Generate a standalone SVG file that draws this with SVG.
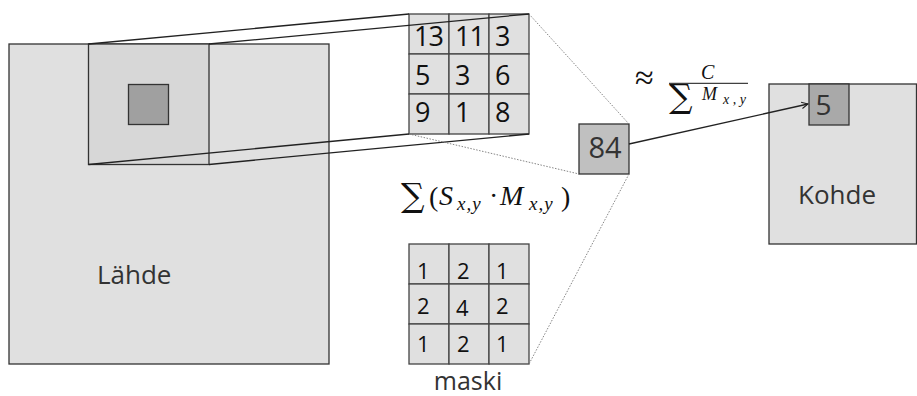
<svg xmlns="http://www.w3.org/2000/svg" width="917" height="396" viewBox="0 0 917 396">
<defs>
<style>
.box{fill:#e0e0e0;stroke:#333;stroke-width:1.3}
.win{fill:#d7d7d7;stroke:#333;stroke-width:1.3}
.cell{fill:#e0e0e0;stroke:#444;stroke-width:1.3}
.lbl{font-family:"Open Sans","Noto Sans",sans-serif;fill:#333}
.num{font-family:"Open Sans","Noto Sans",sans-serif;fill:#111}
.big{font-size:27px;letter-spacing:-1px}
.small{font-size:22px}
.math{font-family:"Liberation Serif","DejaVu Serif",serif;fill:#111}
.op{font-family:"DejaVu Serif",serif}
.it{font-style:italic}
.solid{stroke:#222;stroke-width:1.3;fill:none}
.dot{stroke:#777;stroke-width:0.9;stroke-dasharray:1.5,1.5;fill:none}
</style>
<marker id="arr" viewBox="0 0 10 10" refX="9" refY="5" markerWidth="8" markerHeight="8" orient="auto" markerUnits="userSpaceOnUse">
<path d="M1,1 L9,5 L1,9" fill="none" stroke="#222" stroke-width="1.3"/>
</marker>
</defs>
<rect width="917" height="396" fill="#fff"/>

<g id="source">
<rect class="box" x="9" y="44" width="320" height="320"/>
<text class="lbl" x="97" y="284" font-size="26">Lähde</text>
</g>
<g id="window">
<rect class="win" x="88.5" y="44" width="120.5" height="120.5"/>
</g>
<g id="source-pixel">
<rect x="128.5" y="84.5" width="40" height="40" fill="#a0a0a0" stroke="#333" stroke-width="1.3"/>
</g>

<g id="neighbourhood">
<rect class="cell" x="409" y="14" width="40" height="40"/>
<rect class="cell" x="449" y="14" width="40" height="40"/>
<rect class="cell" x="489" y="14" width="40" height="40"/>
<rect class="cell" x="409" y="54" width="40" height="40"/>
<rect class="cell" x="449" y="54" width="40" height="40"/>
<rect class="cell" x="489" y="54" width="40" height="40"/>
<rect class="cell" x="409" y="94" width="40" height="40"/>
<rect class="cell" x="449" y="94" width="40" height="40"/>
<rect class="cell" x="489" y="94" width="40" height="40"/>
<g class="num big">
<text x="414" y="46">13</text><text x="455" y="46">11</text><text x="495" y="46">3</text>
<text x="415" y="85">5</text><text x="455" y="85">3</text><text x="495" y="85">6</text>
<text x="415" y="122">9</text><text x="455" y="122">1</text><text x="495" y="122">8</text>
</g>
</g>

<g id="mask">
<rect class="cell" x="409" y="244" width="40" height="40"/>
<rect class="cell" x="449" y="244" width="40" height="40"/>
<rect class="cell" x="489" y="244" width="40" height="40"/>
<rect class="cell" x="409" y="284" width="40" height="40"/>
<rect class="cell" x="449" y="284" width="40" height="40"/>
<rect class="cell" x="489" y="284" width="40" height="40"/>
<rect class="cell" x="409" y="324" width="40" height="40"/>
<rect class="cell" x="449" y="324" width="40" height="40"/>
<rect class="cell" x="489" y="324" width="40" height="40"/>
<g class="num small">
<text x="417" y="279">1</text><text x="457" y="279">2</text><text x="496" y="279">1</text>
<text x="417" y="314">2</text><text x="456" y="316">4</text><text x="496" y="314">2</text>
<text x="417" y="352">1</text><text x="457" y="352">2</text><text x="496" y="352">1</text>
</g>
<text class="lbl" x="468" y="390" font-size="25" text-anchor="middle">maski</text>
</g>

<g id="result">
<rect x="579" y="124" width="50" height="50" fill="#c0c0c0" stroke="#333" stroke-width="1.3"/>
<text class="lbl" x="605" y="158" font-size="29" text-anchor="middle">84</text>
</g>

<g id="target">
<rect class="box" x="769" y="84" width="147.5" height="160"/>
<text class="lbl" x="837" y="204" font-size="26" text-anchor="middle">Kohde</text>
</g>
<g id="target-pixel">
<rect x="809" y="84" width="40" height="41" fill="#a9a9a9" stroke="#333" stroke-width="1.3"/>
<text class="lbl" x="823.5" y="115" font-size="28" text-anchor="middle">5</text>
</g>

<g id="formula-sum" class="math">
<text class="op" x="401" y="207" font-size="33">∑</text>
<text x="429" y="206" font-size="28">(</text>
<text class="it" x="439" y="205" font-size="28">S</text>
<text class="it" x="457" y="210" font-size="19" letter-spacing="1">x,y</text>
<text x="489" y="205" font-size="28">·</text>
<text class="it" x="500" y="205" font-size="28">M</text>
<text class="it" x="529" y="210" font-size="19" letter-spacing="1">x,y</text>
<text x="561" y="206" font-size="28">)</text>
</g>
<g id="formula-norm" class="math">
<text x="635" y="89" font-size="34">≈</text>
<text class="it" x="701" y="79" font-size="20">C</text>
<line x1="669" y1="83.3" x2="748" y2="83.3" stroke="#111" stroke-width="1"/>
<text class="op" x="669" y="108" font-size="33">∑</text>
<text class="it" x="702" y="100" font-size="18">M</text>
<text class="it" x="723" y="104" font-size="14">x , y</text>
</g>

<g id="connectors">
<line class="solid" x1="88.5" y1="44" x2="409" y2="14"/>
<line class="solid" x1="209" y1="44" x2="529" y2="14"/>
<line class="solid" x1="88.5" y1="164.5" x2="409" y2="134"/>
<line class="solid" x1="209" y1="164.5" x2="529" y2="134"/>
<line class="dot" x1="529" y1="14" x2="629" y2="124"/>
<line class="dot" x1="409" y1="134" x2="579" y2="174"/>
<line class="dot" x1="629" y1="174" x2="529" y2="364"/>
<line class="solid" x1="629" y1="144" x2="808" y2="104" marker-end="url(#arr)"/>
</g>
</svg>
